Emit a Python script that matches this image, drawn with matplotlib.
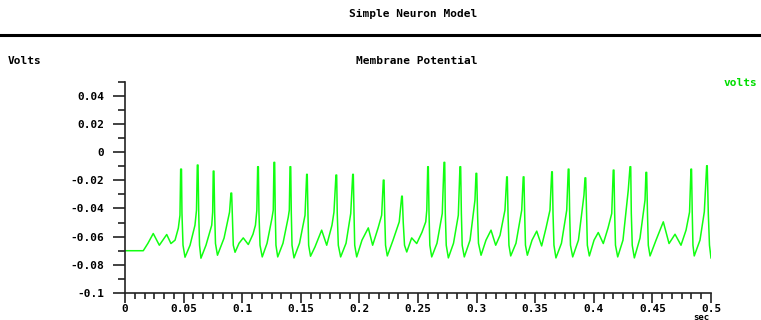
import matplotlib
matplotlib.use("Agg")
import matplotlib.pyplot as plt
from matplotlib.lines import Line2D
from matplotlib.ticker import MultipleLocator, FuncFormatter
import numpy as np

# membrane potential trace (time in ms, voltage in mV)
t_ms = [0, 15.6,
        19.6, 24.1, 29.3, 35.6, 39.2,
        42.7, 45.5, 46.9, 47.5, 48.2, 48.6, 49.5, 51.2,
        55.5, 59.7, 61.0, 61.7, 62.3, 62.9, 63.6, 64.8,
        69.1, 74.0, 74.8, 75.3, 75.9, 76.5, 77.2, 78.9,
        84.5, 89.2, 90.4, 91.0, 91.7, 92.4, 93.9,
        97.3, 100.9, 105.2, 109.2,
        111.3, 112.5, 113.2, 113.8, 114.3, 115.2, 117.1,
        121.2, 125.4, 126.5, 127.1, 127.7, 128.2, 128.8, 130.3,
        134.8, 139.3, 140.2, 140.8, 141.4, 141.9, 142.5, 144.2,
        148.9, 153.6, 155.0, 155.5, 156.1, 156.7, 158.3,
        162.1, 167.8, 172.1,
        176.6, 178.3, 180.0, 180.6, 181.1, 182.0, 184.0,
        188.6, 192.6, 194.3, 194.8, 195.4, 196.0, 197.7,
        202.2, 207.6, 211.3,
        215.9, 219.0, 220.4, 221.0, 221.6, 222.3, 223.8,
        228.7, 234.0, 236.1, 236.6, 237.4, 238.5, 240.4,
        244.6, 248.9,
        253.4, 256.6, 257.5, 258.3, 258.8, 259.4, 260.1, 261.7,
        266.2, 270.7, 272.2, 272.8, 273.3, 274.1, 275.9,
        280.3, 284.4, 285.8, 286.4, 287.0, 287.7, 289.5,
        294.4, 298.6, 299.5, 300.1, 300.8, 301.6, 303.8,
        308.0, 312.3, 316.3,
        320.0, 324.2, 325.7, 326.2, 326.8, 327.6, 329.1,
        333.6, 338.5, 339.8, 340.4, 341.0, 341.7, 343.3,
        347.3, 351.3, 355.5,
        359.2, 362.6, 364.1, 364.6, 365.2, 366.0, 367.7,
        372.4, 376.9, 378.2, 378.8, 379.4, 380.1, 382.0,
        386.9, 391.6, 392.5, 393.1, 393.8, 394.5, 396.2,
        400.2, 403.8, 408.1,
        412.1, 415.3, 416.6, 417.2, 417.8, 418.5, 420.4,
        424.9, 429.4, 430.9, 431.5, 432.0, 432.8, 434.6,
        439.4, 443.7, 444.5, 445.1, 445.8, 446.5, 448.0,
        453.1, 459.3, 464.2, 469.3, 474.4,
        478.7, 481.7, 482.9, 483.4, 484.0, 484.6, 485.7,
        490.6, 494.3, 496.3, 496.8, 497.7, 498.7, 500.0]

v_mV = [-70.0, -70.0,
        -64.7, -57.8, -66.1, -58.5, -64.9,
        -62.5, -54.0, -44.8, -12.1, -12.1, -43.4, -66.1, -74.6,
        -66.1, -51.9, -41.2, -9.2, -9.2, -43.4, -66.1, -75.3,
        -66.1, -51.9, -42.6, -13.5, -13.5, -43.4, -64.9, -73.2,
        -61.1, -42.6, -29.1, -29.1, -48.3, -66.1, -71.1,
        -64.7, -60.9, -65.6, -58.3,
        -51.9, -41.2, -10.4, -10.4, -43.4, -66.1, -74.4,
        -64.7, -46.9, -41.2, -7.3, -7.3, -43.4, -66.1, -74.4,
        -64.7, -46.2, -41.2, -10.4, -10.4, -43.4, -66.1, -75.1,
        -64.7, -44.8, -15.8, -15.8, -43.4, -66.1, -73.9,
        -67.3, -55.4, -66.1,
        -51.9, -42.6, -16.3, -16.3, -43.4, -66.1, -74.4,
        -64.7, -43.6, -15.8, -15.8, -43.4, -66.1, -74.4,
        -62.5, -53.8, -66.1,
        -54.0, -44.8, -19.9, -19.9, -44.8, -66.1, -73.7,
        -62.5, -49.5, -31.3, -31.3, -49.8, -66.1, -70.9,
        -60.9, -64.9,
        -56.9, -49.5, -41.2, -10.4, -10.4, -43.4, -66.1, -74.4,
        -64.7, -43.6, -7.3, -7.3, -43.4, -66.1, -75.1,
        -64.7, -44.8, -10.4, -10.4, -43.4, -66.1, -74.4,
        -62.5, -34.1, -15.1, -15.1, -43.4, -64.7, -73.2,
        -62.5, -55.4, -66.1,
        -59.0, -41.2, -17.6, -17.6, -43.4, -66.1, -73.7,
        -64.7, -41.2, -17.6, -17.6, -43.4, -66.1, -73.2,
        -62.5, -56.1, -66.6,
        -54.0, -41.2, -14.0, -14.0, -43.4, -66.1, -75.1,
        -64.7, -41.2, -12.1, -12.1, -43.4, -66.1, -74.4,
        -62.5, -30.6, -18.3, -18.3, -43.4, -66.1, -73.7,
        -62.5, -57.1, -64.9,
        -54.0, -43.6, -12.8, -12.8, -43.4, -66.1, -74.4,
        -62.5, -27.0, -10.4, -10.4, -43.4, -66.1, -75.1,
        -61.1, -34.1, -14.4, -14.4, -43.4, -66.1, -73.7,
        -62.5, -49.5, -64.9, -58.3, -66.1,
        -55.4, -42.6, -12.1, -12.1, -43.4, -66.1, -73.7,
        -62.5, -42.4, -9.7, -9.7, -43.6, -66.1, -75.1]

t = np.array(t_ms) / 1000.0
v = np.array(v_mV) / 1000.0

font = "DejaVu Sans Mono"

fig = plt.figure(figsize=(7.61, 3.2), dpi=100)
ax = fig.add_axes([125/761, 27/320, 586/761, 211.4/320])

ax.plot(t, v, color="#11ff11", lw=1.1)

ax.set_xlim(0, 0.5)
ax.set_ylim(-0.1, 0.05)
ax.spines["top"].set_visible(False)
ax.spines["right"].set_visible(False)
for s in ["left", "bottom"]:
    ax.spines[s].set_linewidth(1.2)
    ax.spines[s].set_color("#222222")

ax.xaxis.set_major_locator(MultipleLocator(0.05))
ax.xaxis.set_minor_locator(MultipleLocator(0.05/6))
ax.set_yticks(np.arange(-0.1, 0.041, 0.02))
ax.yaxis.set_minor_locator(MultipleLocator(0.01))

fmt = FuncFormatter(lambda val, pos: f"{round(val, 3):g}" if abs(val) > 1e-9 else "0")
ax.xaxis.set_major_formatter(fmt)
ax.yaxis.set_major_formatter(fmt)

ax.tick_params(axis="y", which="major", length=9, width=1.2, color="#222222", pad=6)
ax.tick_params(axis="y", which="minor", length=5, width=1.2, color="#222222")
ax.tick_params(axis="x", which="major", length=7, width=1.2, color="#222222", pad=1)
ax.tick_params(axis="x", which="minor", length=4, width=1.2, color="#222222")
for lab in ax.get_xticklabels() + ax.get_yticklabels():
    lab.set_fontfamily(font)
    lab.set_fontweight("bold")
    lab.set_fontsize(8)

fig.text(413/761, 1 - 14/320, "Simple Neuron Model", ha="center", va="center",
         fontsize=8, fontweight="bold", family=font)
fig.add_artist(Line2D([0, 1], [1 - 35/320, 1 - 35/320], color="black", lw=2.2))
fig.text(8/761, 1 - 61/320, "Volts", ha="left", va="center",
         fontsize=8, fontweight="bold", family=font)
fig.text(417/761, 1 - 61/320, "Membrane Potential", ha="center", va="center",
         fontsize=8, fontweight="bold", family=font)
fig.text(724/761, 1 - 83/320, "volts", ha="left", va="center", color="#00dd00",
         fontsize=8, fontweight="bold", family=font)
fig.text(701/761, 1 - 317/320, "sec", ha="center", va="center",
         fontsize=6.5, fontweight="bold", family=font)

fig.savefig("out.png", dpi=100)
